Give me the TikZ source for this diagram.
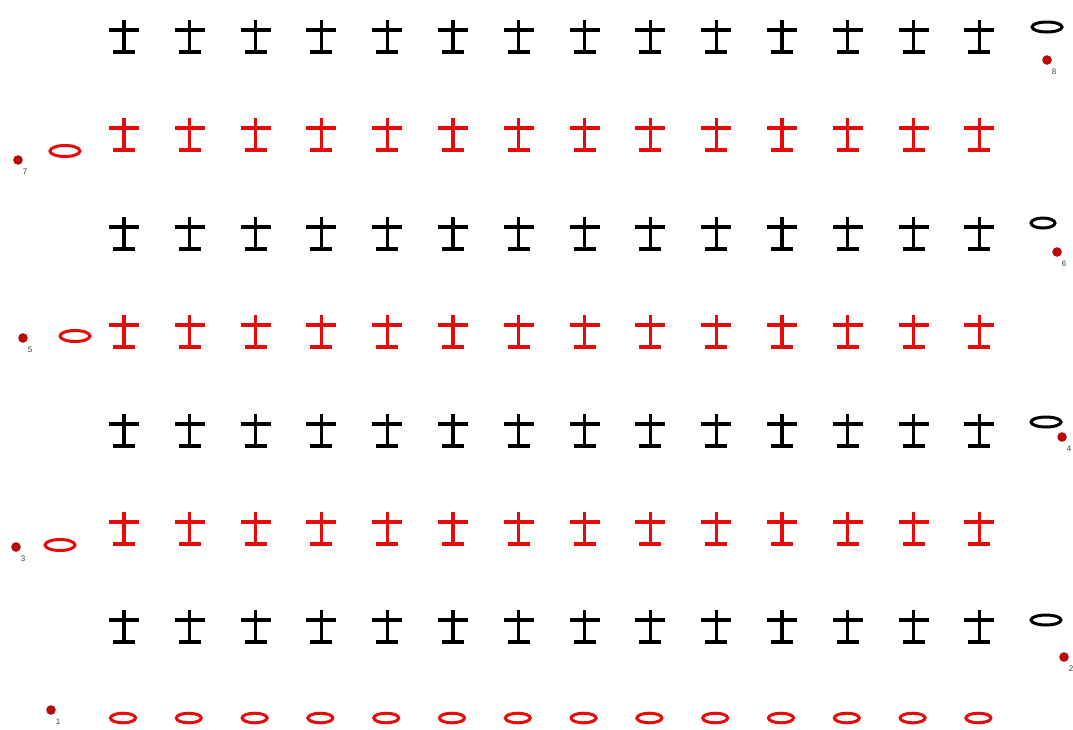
\documentclass[tikz,border=0pt]{standalone}
\usepackage{fontspec}
\setmainfont{Liberation Sans}
\definecolor{cred}{RGB}{232,10,10}
\definecolor{dotred}{RGB}{185,10,10}
\definecolor{lbl}{RGB}{60,60,60}
\tikzset{
  dc/.pic={
    \draw[line width=3.2pt] (0,-10) -- (0,22);
    \draw[line width=3.2pt] (-15,0) -- (15,0);
    \draw[line width=3.2pt] (-11,22) -- (11,22);
  },
  chain/.style={line width=3pt},
  rowdot/.style={fill=dotred, draw=none},
  numlbl/.style={font=\fontsize{8}{9}\selectfont, text=lbl, inner sep=0pt}
}
\begin{document}
\begin{tikzpicture}[x=1pt,y=-1pt]
\useasboundingbox (0,0) rectangle (1073,729);
\fill[white] (0,0) rectangle (1073,729);
% rows of double crochet symbols
\foreach \r/\cy/\col in {8/30/black,7/128/cred,6/227/black,5/325/cred,4/424/black,3/522/cred,2/620/black}{
  \foreach \i in {0,...,13}{
    \pic[\col] at ({124+65.8*\i},\cy) {dc};
  }
}
% foundation chain
\foreach \i in {0,...,13}{
  \draw[chain,cred] ({123+65.8*\i},718) ellipse [x radius=12.5, y radius=4.8];
}
% turning chains
\draw[chain,cred] (65,151) ellipse [x radius=15, y radius=5.5];
\draw[chain,cred] (75,336) ellipse [x radius=15, y radius=5.5];
\draw[chain,cred] (60,545) ellipse [x radius=15, y radius=5.5];
\draw[chain,black] (1047,27) ellipse [x radius=15, y radius=5];
\draw[chain,black] (1043,223) ellipse [x radius=12, y radius=5];
\draw[chain,black] (1046,422) ellipse [x radius=15, y radius=5];
\draw[chain,black] (1046,620) ellipse [x radius=15, y radius=5];
% row markers
\foreach \n/\x/\y in {1/51/710,2/1064/657,3/16/547,4/1062/437,5/23/338,6/1057/252,7/18/160,8/1047/60}{
  \fill[rowdot] (\x,\y) circle (4.8);
  \node[numlbl] (l\n) at (\x+7,\y+12) {\n};
}
\end{tikzpicture}
\end{document}
